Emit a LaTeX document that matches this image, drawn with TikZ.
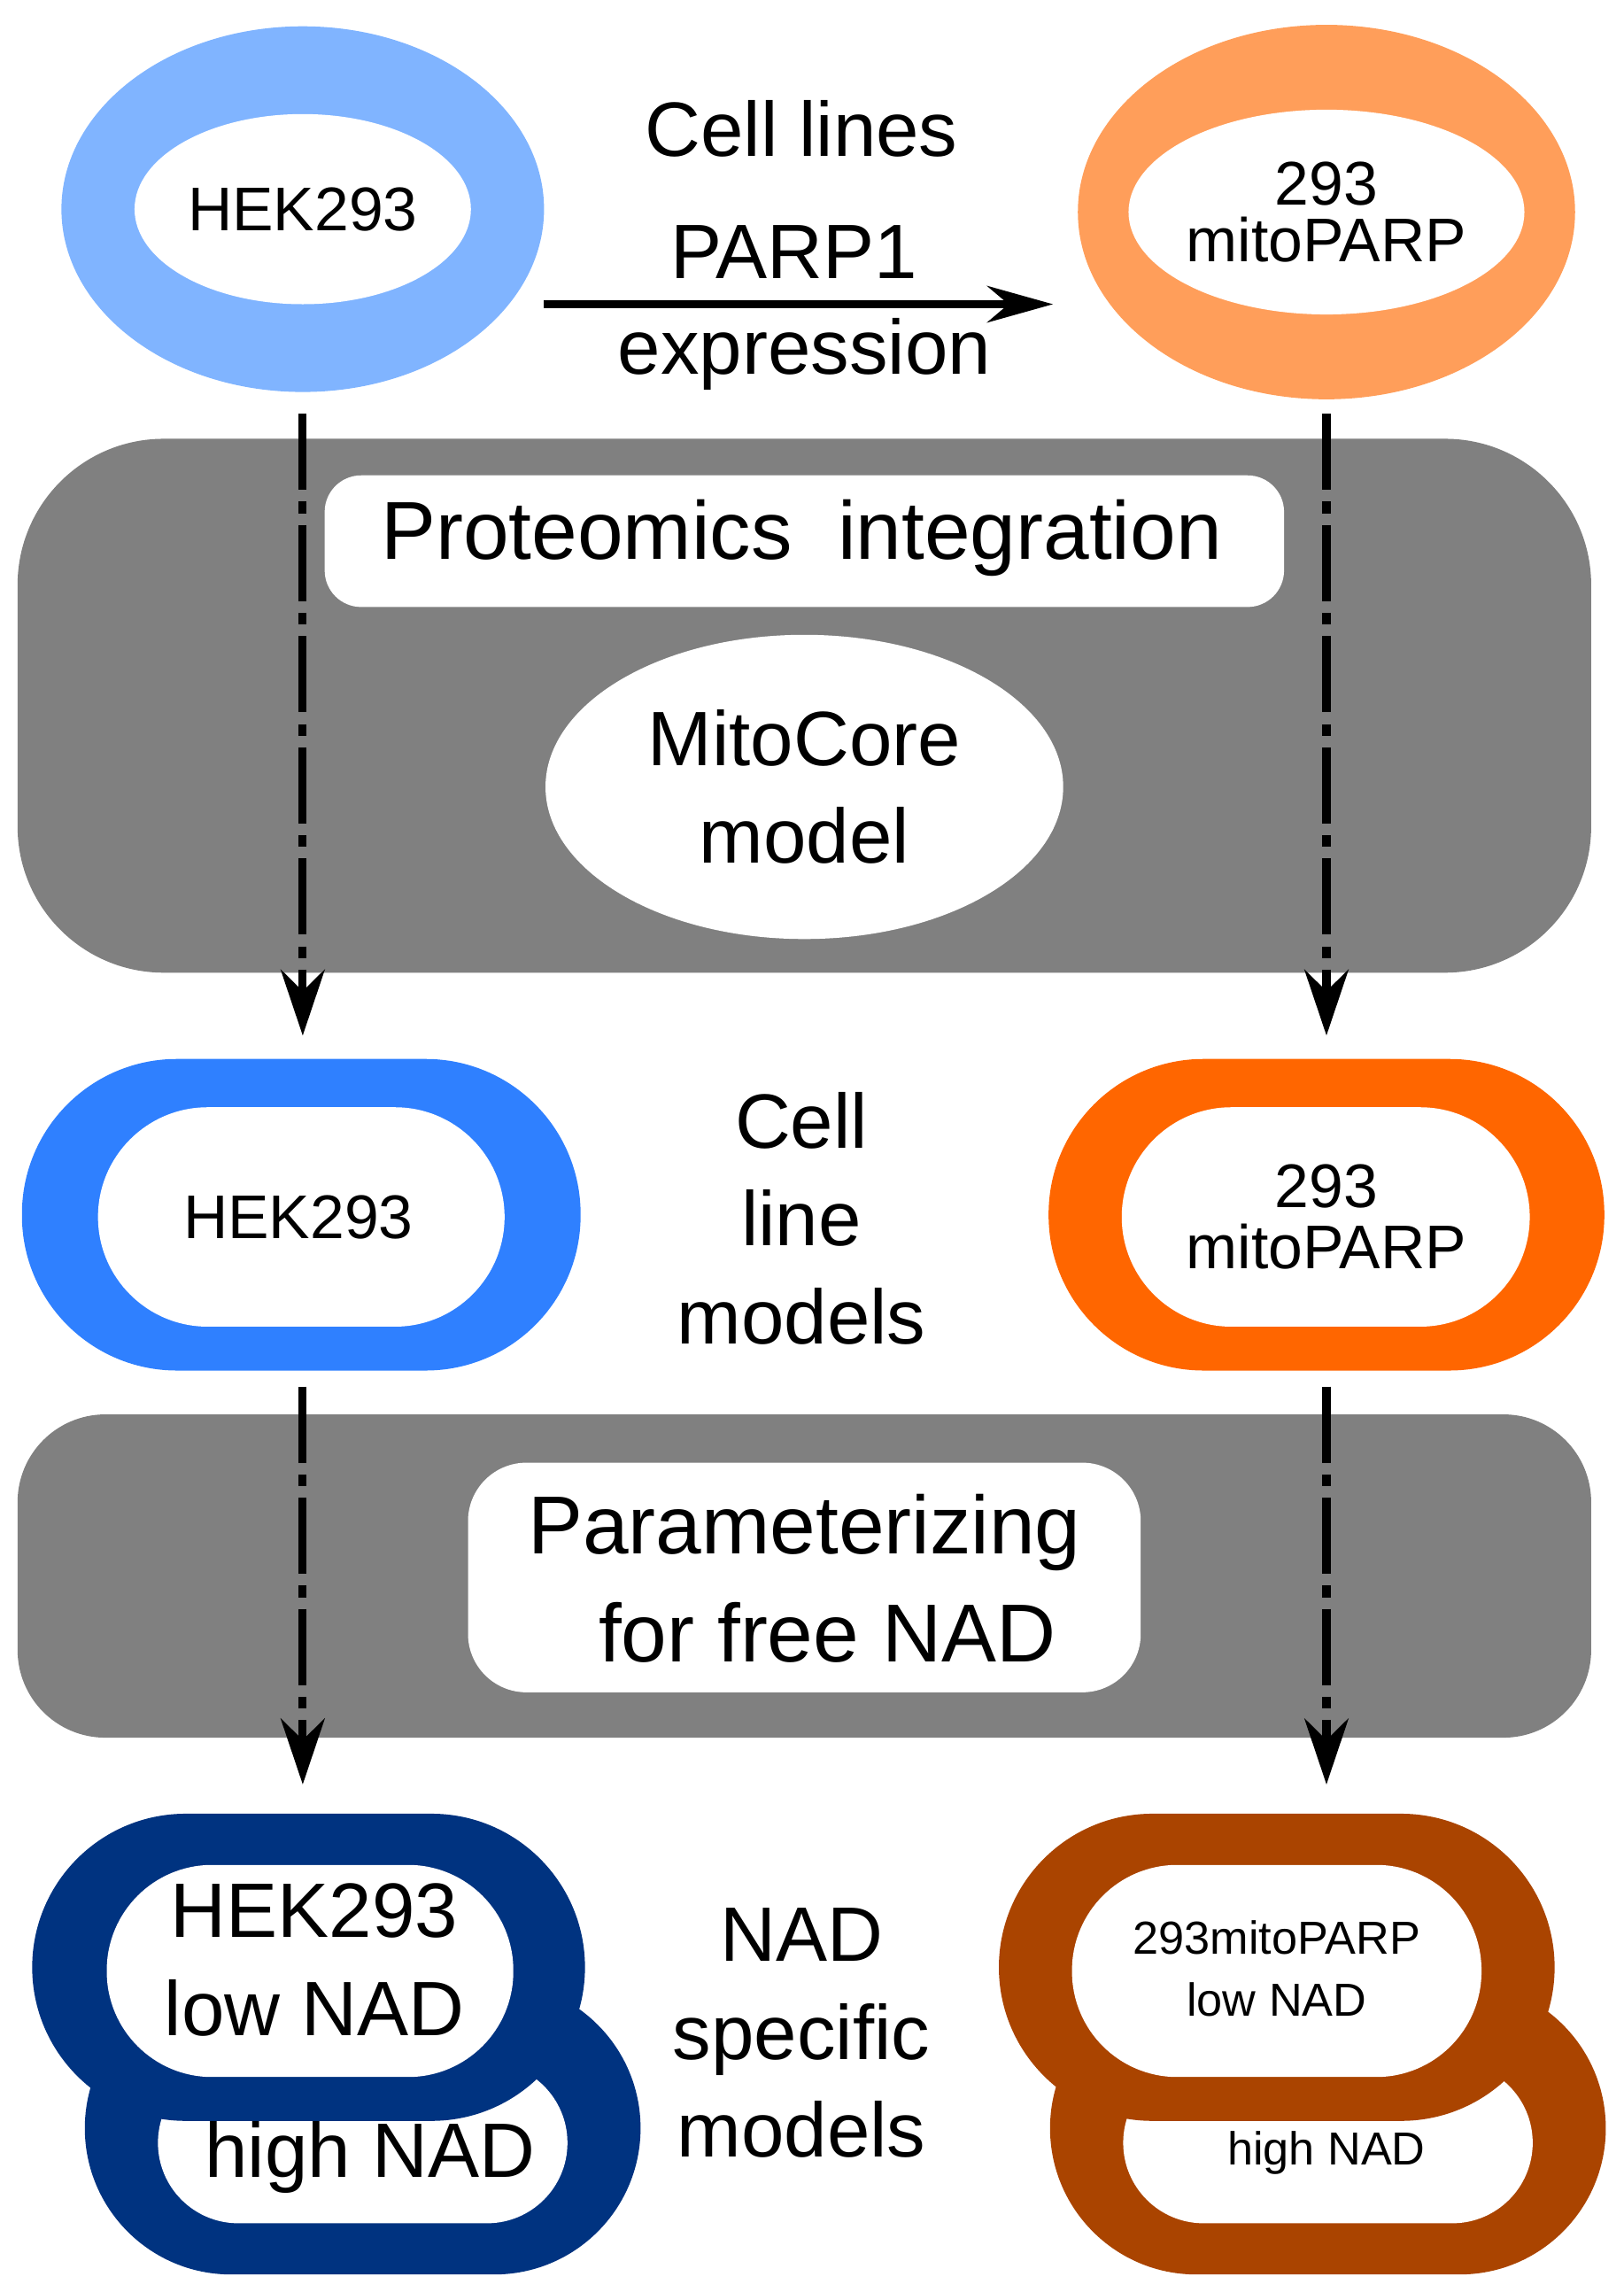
\documentclass[tikz,border=0pt]{standalone}
\usepackage{fontspec}
\setmainfont{Liberation Sans}
\usetikzlibrary{shapes.geometric,arrows.meta}
\definecolor{lb}{HTML}{80B4FF}\definecolor{lo}{HTML}{FF9E5A}
\definecolor{mb}{HTML}{2F80FF}\definecolor{mo}{HTML}{FF6600}
\definecolor{db}{HTML}{003380}\definecolor{dbr}{HTML}{AA4400}
\definecolor{gr}{HTML}{808080}
\begin{document}
\begin{tikzpicture}[x=0.1mm,y=-0.1mm,
 txt/.style={align=center,font=\fontsize{12}{14}\selectfont},
 big/.style={align=center,font=\fontsize{15}{19}\selectfont},
 sm/.style={align=center,font=\fontsize{9}{12}\selectfont},
 dsharr/.style={line width=0.55mm,dash pattern=on 5.2mm off 0.8mm on 0.8mm off 0.8mm,-{Stealth[length=4.5mm,width=3mm]}}]
\useasboundingbox (0,0) rectangle (1110,1567);
% top ellipses
\node[ellipse,fill=lb,minimum width=33mm,minimum height=25mm] (e1) at (207,143) {};
\node[ellipse,fill=white,minimum width=23mm,minimum height=13mm,txt,inner sep=0pt] (e1i) at (207,143) {HEK293};
\node[ellipse,fill=lo,minimum width=34mm,minimum height=25.6mm] (e2) at (907,145) {};
\node[ellipse,fill=white,minimum width=24mm,minimum height=14mm,txt,inner sep=0pt] (e2i) at (907,145) {293\\[-3pt]mitoPARP};
\coordinate (a1) at (372,208); \coordinate (a2) at (720,208);
\draw[line width=0.5mm,-{Stealth[length=4.5mm,width=2.5mm]}] (a1) -- (a2);
\node[big] (t1) at (548,88) {Cell lines};
\node[big] (t2) at (543,172) {PARP1};
\node[big] (t3) at (550,242) {expression};
% gray box 1
\fill[gr,rounded corners=10mm] (12,300) rectangle (1088,665);
\fill[white,rounded corners=2.5mm] (222,325) rectangle (878,415);
\node[big,font=\fontsize{16}{19}\selectfont] (pi) at (548,368) {Proteomics\ \ integration};
\node[ellipse,fill=white,minimum width=35.4mm,minimum height=20.8mm,big,inner sep=0pt] (mc) at (550,538) {MitoCore\\model};
% middle stadiums
\fill[mb,rounded corners=10.6mm] (15,724) rectangle (397,937);
\fill[white,rounded corners=7.5mm] (67,757) rectangle (345,907);
\node[txt] (m1) at (204,832) {HEK293};
\fill[mo,rounded corners=10.6mm] (717,724) rectangle (1097,937);
\fill[white,rounded corners=7.5mm] (767,757) rectangle (1046,907);
\node[txt] (m2) at (907,832) {293\\[-2pt]mitoPARP};
\node[big] (cl) at (548,833) {Cell\\line\\models};
% gray box 2
\fill[gr,rounded corners=6mm] (12,967) rectangle (1088,1188);
\fill[white,rounded corners=4mm] (320,1000) rectangle (780,1157);
\node[big,font=\fontsize{16}{21}\selectfont] (pf) at (550,1079) {Parameterizing\\\ \ for free NAD};
% dashed arrows
\coordinate (d1) at (207,283); \coordinate (d2) at (207,708);
\coordinate (d3) at (907,283); \coordinate (d4) at (907,708);
\coordinate (d5) at (207,948); \coordinate (d6) at (207,1220);
\coordinate (d7) at (907,948); \coordinate (d8) at (907,1220);
\draw[dsharr] (d1)--(d2); \draw[dsharr] (d3)--(d4);
\draw[dsharr] (d5)--(d6); \draw[dsharr] (d7)--(d8);
% bottom left
\fill[db,rounded corners=10mm] (58,1355) rectangle (438,1555);
\fill[white,rounded corners=5.5mm] (108,1410) rectangle (388,1520);
\fill[db,rounded corners=10.5mm] (22,1240) rectangle (400,1450);
\fill[white,rounded corners=7.2mm] (73,1275) rectangle (351,1420);
\node[big] (b1) at (215,1340) {HEK293\\low NAD};
\node[big] (b2) at (253,1475) {high NAD};
% bottom right
\fill[dbr,rounded corners=10mm] (718,1355) rectangle (1098,1555);
\fill[white,rounded corners=5.5mm] (768,1410) rectangle (1048,1520);
\fill[dbr,rounded corners=10.5mm] (683,1240) rectangle (1063,1450);
\fill[white,rounded corners=7.2mm] (733,1275) rectangle (1013,1420);
\node[sm] (b3) at (873,1346) {293mitoPARP\\low NAD};
\node[sm] (b4) at (907,1472) {high NAD};
\node[big] (ns) at (548,1390) {NAD\\specific\\models};
\end{tikzpicture}
\end{document}
